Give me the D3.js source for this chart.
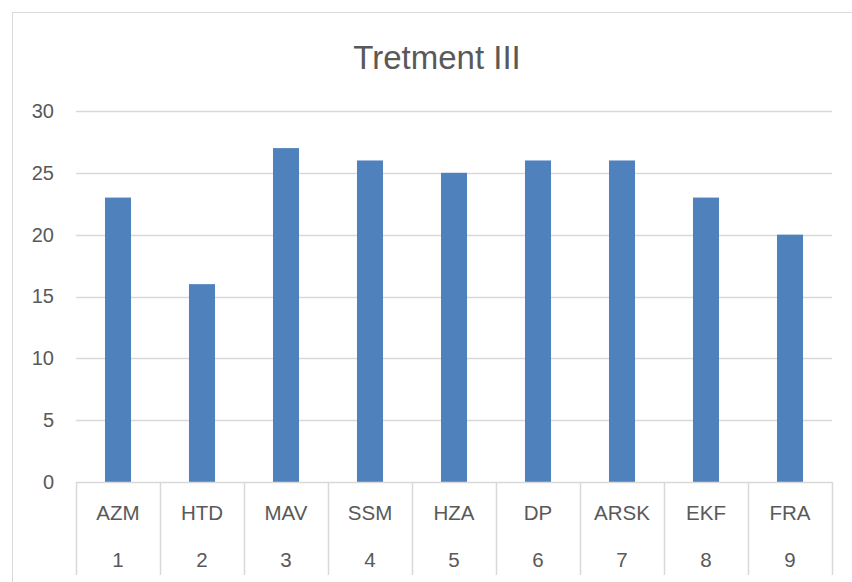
<!DOCTYPE html>
<html>
<head>
<meta charset="utf-8">
<script src="https://cdn.jsdelivr.net/npm/d3@7"></script>
<style>
  html, body { margin: 0; padding: 0; background: #fff; }
  svg { display: block; }
  text { font-family: "Liberation Sans", Arial, sans-serif; fill: #595959; }
</style>
</head>
<body>
<svg id="chart" width="852" height="582"></svg>
<script>
const categories = ["AZM", "HTD", "MAV", "SSM", "HZA", "DP", "ARSK", "EKF", "FRA"];
const groupNumbers = ["1", "2", "3", "4", "5", "6", "7", "8", "9"];
const values = [23, 16, 27, 26, 25, 26, 26, 23, 20];
const yTicks = [0, 5, 10, 15, 20, 25, 30];
const title = "Tretment III";

const svg = d3.select("#chart");
const W = 852, H = 582;
const plot = { left: 76, right: 832, top: 111, bottom: 482 };

// chart border
svg.append("rect")
  .attr("x", 12.5).attr("y", 12.5)
  .attr("width", W + 20).attr("height", H + 20)
  .attr("fill", "#fff").attr("stroke", "#D9D9D9").attr("stroke-width", 1);

// title
svg.append("text")
  .attr("x", (plot.left + plot.right) / 2 - 17)
  .attr("y", 69)
  .attr("text-anchor", "middle")
  .style("font-size", "33px")
  .text(title);

const keys = categories.map((c, i) => i);
const x = d3.scaleBand()
  .domain(keys)
  .range([plot.left, plot.right])
  .paddingInner(0.69)
  .paddingOuter(0.345);

const slot = d3.scaleBand().domain(keys).range([plot.left, plot.right]).padding(0);

const y = d3.scaleLinear().domain([0, 30]).range([plot.bottom, plot.top]);

// gridlines
svg.append("g")
  .selectAll("line")
  .data(yTicks.filter(t => t > 0))
  .join("line")
  .attr("x1", plot.left).attr("x2", plot.right)
  .attr("y1", d => Math.round(y(d)) + 0.5).attr("y2", d => Math.round(y(d)) + 0.5)
  .attr("stroke", "#D9D9D9").attr("stroke-width", 1.5);

// y-axis labels
const yAxis = d3.axisLeft(y).tickValues(yTicks).tickSize(0).tickPadding(0);
const gy = svg.append("g")
  .attr("transform", `translate(${plot.left - 22},0)`)
  .call(yAxis);
gy.select(".domain").remove();
gy.selectAll("text")
  .style("font-size", "20px")
  .attr("fill", "#595959")
  .style("font-family", "'Liberation Sans', Arial, sans-serif");

// bars
svg.append("g")
  .selectAll("rect")
  .data(values)
  .join("rect")
  .attr("x", (d, i) => x(i))
  .attr("width", x.bandwidth())
  .attr("y", d => y(d))
  .attr("height", d => y(0) - y(d))
  .attr("fill", "#4F81BD");

// x-axis baseline
svg.append("line")
  .attr("x1", plot.left).attr("x2", plot.right)
  .attr("y1", plot.bottom + 0.5).attr("y2", plot.bottom + 0.5)
  .attr("stroke", "#D9D9D9").attr("stroke-width", 1.5);

// category separators
const seps = keys.map(k => slot(k)).concat([plot.right]);
svg.append("g")
  .selectAll("line")
  .data(seps)
  .join("line")
  .attr("x1", d => Math.round(d) + 0.5).attr("x2", d => Math.round(d) + 0.5)
  .attr("y1", plot.bottom).attr("y2", 575)
  .attr("stroke", "#D9D9D9").attr("stroke-width", 1.5);

// category labels (level 1)
svg.append("g")
  .selectAll("text")
  .data(categories)
  .join("text")
  .attr("x", (d, i) => slot(i) + slot.bandwidth() / 2)
  .attr("y", 520)
  .attr("text-anchor", "middle")
  .style("font-size", "20.5px")
  .text(d => d);

// group numbers (level 2)
svg.append("g")
  .selectAll("text")
  .data(groupNumbers)
  .join("text")
  .attr("x", (d, i) => slot(i) + slot.bandwidth() / 2)
  .attr("y", 567)
  .attr("text-anchor", "middle")
  .style("font-size", "20.5px")
  .text(d => d);
</script>
</body>
</html>
